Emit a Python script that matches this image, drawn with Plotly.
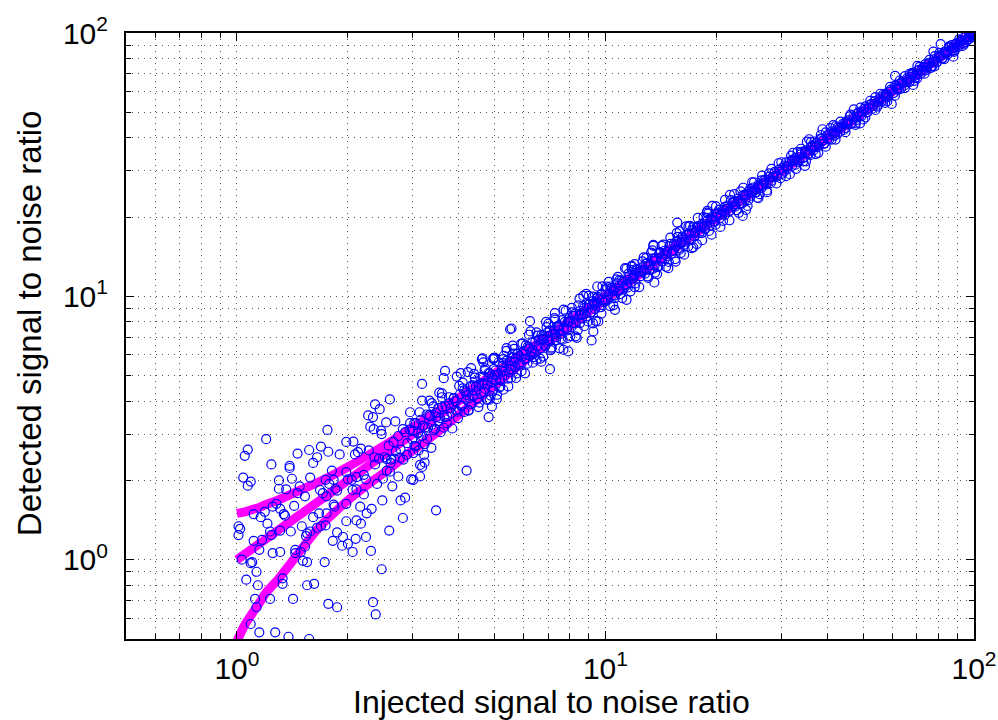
import plotly.graph_objects as go

# ---------------- data (read / estimated from the reference picture) ----------------
# sparse, low-SNR points (injected, detected)
low_x = [1.20,1.07,1.05,1.76,1.24,1.39,1.39,1.46,1.57,1.69,1.77,1.65,1.61,1.04,1.09,1.07,1.30,1.41,1.30,1.36,
         1.48,1.58,1.74,1.90,1.98,2.07,2.09,2.13,2.17,2.28,2.27,2.34,2.37,2.44,2.60,2.30,2.35,2.46,2.47,2.54,
         2.69,2.95,3.18,3.18,3.33,3.38,3.54,3.60,2.95,2.82,1.81,1.83,1.78,1.85,1.87,1.98,2.00,2.05,2.11,2.21,
         2.24,2.37,2.40,2.49,2.64,2.55,2.60,2.74,2.97,3.01,3.14,1.46,1.53,1.68,1.71,1.75,1.83,1.84,1.98,2.06,
         2.11,2.21,2.16,2.32,2.25,2.11,2.17,2.59,2.48,2.78,2.86,2.82,3.47,4.20,3.14,3.23,3.18,3.22,3.11,3.01,
         2.89,2.77,2.67,2.62,2.55,2.43,2.36,1.11,1.16,1.19,1.25,1.28,1.31,1.34,1.35,1.43,1.50,1.40,1.55,1.61,
         1.67,1.69,1.74,1.75,1.01,1.02,1.01,1.11,1.17,1.21,1.23,1.24,1.31,1.15,1.25,1.31,1.44,1.44,1.49,1.53,
         1.54,1.58,1.65,1.87,1.94,1.93,2.00,2.06,2.10,1.82,2.24,2.31,1.03,1.09,1.10,1.13,1.06,1.14,1.33,1.33,
         1.51,1.55,1.73,2.47,1.55,1.62,1.12,1.23,1.42,1.13,1.77,1.87,2.34,2.38,1.09,1.15,1.27,1.38,1.57,1.98]
low_y = [2.87,2.62,2.48,3.11,2.30,2.27,2.23,2.53,2.61,2.69,2.57,2.45,2.33,2.05,1.98,1.91,2.00,2.03,1.86,1.85,
         1.90,2.05,2.01,2.51,2.80,2.81,2.51,2.56,2.64,2.60,3.53,3.48,3.89,3.73,4.06,3.20,3.13,3.09,3.00,3.32,
         3.35,3.63,4.65,4.02,4.02,3.93,4.31,4.14,3.30,3.13,2.18,2.01,1.94,1.86,1.83,2.15,2.02,2.01,2.06,2.10,
         2.02,2.30,1.94,2.03,1.90,2.18,2.16,2.07,2.02,2.01,2.07,1.79,1.74,1.84,1.79,1.74,1.62,1.59,1.63,1.84,
         1.85,1.77,1.59,1.56,1.50,1.41,1.37,1.29,1.68,1.68,1.72,1.44,1.54,2.18,2.29,2.34,2.25,2.50,2.60,2.54,
         2.50,2.44,2.42,2.40,2.41,2.42,2.45,1.49,1.45,1.52,1.59,1.63,1.56,1.49,1.47,1.60,1.34,1.28,1.26,1.45,
         1.50,1.34,1.35,1.50,1.34,1.31,1.24,1.18,1.19,1.37,1.28,1.24,1.29,1.09,1.06,1.07,1.09,1.06,1.07,1.12,
         1.23,1.28,1.32,1.27,1.22,1.13,1.15,1.07,1.20,1.18,1.22,1.08,1.00,0.97,0.98,0.90,0.84,0.80,0.85,0.81,
         0.99,0.98,0.98,0.92,0.80,0.81,0.71,0.71,0.71,0.66,0.68,0.66,0.69,0.62,0.57,0.53,0.53,0.51,0.50,1.40]

# scattered outliers along the band at medium/high SNR
out_x = [3.67,3.64,3.95,4.05,4.32,4.62,4.66,4.96,5.28,5.39,5.51,4.96,5.07,5.28,4.82,4.92,4.76,
         5.56,6.24,9.17,9.27,9.56,7.93,7.69,11.78,13.49,13.57,7.29,8.71,10.07,11.41,10.61,6.78,7.07,4.96,4.64,
         11.78,13.49,15.66,15.60,16.96,17.13,18.89,21.77,23.57,24.06,26.00,13.63,14.81,
         34.8,32.3,35.7,38.8,41.5,49.1,47.2,59.8,61.1,68.4,70.2,77.6,81.2,98.6,87.9]
out_y = [5.21,4.89,4.96,5.11,5.34,5.78,5.61,5.78,5.78,6.36,7.50,4.44,4.07,4.42,3.48,3.82,4.05,
         7.55,8.05,6.80,7.36,8.03,6.18,6.27,12.98,15.55,11.29,8.63,10.04,10.90,9.70,8.89,5.91,5.29,5.82,5.82,
         13.05,15.68,19.06,17.37,18.52,15.24,21.11,24.27,20.21,21.30,23.58,12.31,12.79,
         31.3,35.1,39.5,43.1,44.7,45.4,51.3,53.8,68.7,63.5,75.0,85.0,90.8,99.1,81.3]

# dense core of points close to the diagonal
core_x = [2.52,2.58,2.61,2.66,2.70,2.74,2.78,2.83,2.86,2.90,2.94,2.99,3.03,3.06,3.10,3.15,3.19,3.24,3.28,3.33,
          3.37,3.42,3.47,3.52,3.57,3.61,3.66,3.71,3.76,3.82,3.87,3.93,3.98,
          4.03,4.08,4.14,4.19,4.25,4.30,4.36,4.42,4.48,4.54,4.60,4.66,4.72,4.78,4.85,4.91,4.98,5.04,5.11,5.18,
          5.25,5.32,5.39,5.46,5.54,5.61,5.69,5.76,5.84,5.92,6.00,6.08,6.16,6.25,6.33,6.42,6.50,6.59,6.68,6.77,
          6.87,6.96,7.05,7.15,7.25,7.35,7.45,7.55,7.65,7.76,7.86,7.97,8.08,8.19,8.30,8.41,8.53,8.64,8.76,8.88,
          9.00,9.12,9.25,9.37,9.50,9.63,9.76,9.89,
          4.2,4.7,5.0,5.5,6.0,6.5,7.0,7.5,8.0,8.5,9.0,9.5,4.45,4.95,5.7,6.3,6.8,7.3,7.9,8.6,9.3,9.8,
          10.0,10.15,10.3,10.45,10.6,10.75,10.9,11.05,11.2,11.4,11.55,11.7,11.9,12.05,12.2,12.4,12.6,12.8,13.0,
          13.2,13.4,13.6,13.8,14.0,14.2,14.45,14.65,14.9,15.1,15.35,15.6,15.85,16.1,16.35,16.6,16.9,17.15,17.45,
          17.7,18.0,18.3,18.6,18.9,19.2,19.5,19.8,20.1,20.4,20.8,21.1,21.45,21.8,22.2,22.5,22.9,23.3,23.6,24.0,
          24.4,24.8,25.2,25.6,26.0,26.5,26.9,27.3,27.8,28.2,28.7,29.2,29.6,
          10.5,11.5,12.5,13.5,14.5,15.5,16.5,17.5,18.5,19.5,21,22.5,24,25.5,27,28.5,12,16,20,26,
          30.1,30.6,31.1,31.6,32.1,32.7,33.2,33.8,34.3,34.9,35.5,36.1,36.7,37.3,37.9,38.6,39.2,39.9,40.5,41.2,
          41.9,42.6,43.3,44.0,44.8,45.5,46.3,47.1,47.9,48.7,49.5,50.3,51.2,52.0,52.9,53.8,54.7,55.7,56.6,57.6,
          58.5,59.5,60.5,61.6,62.6,63.7,64.7,65.8,66.9,68.1,69.2,70.4,71.6,72.8,74.0,75.3,76.5,77.8,79.2,80.5,
          81.9,83.3,84.7,86.1,87.6,89.1,90.6,92.1,93.7,95.3,96.9,98.5,99.3,
          31,33,35,37,39,42,45,48,51,55,58,62,66,70,74,78,83,88,93,97]
core_y = [2.45,2.71,2.33,2.80,2.58,2.95,2.62,2.40,3.05,2.77,3.12,2.86,3.30,2.70,3.02,3.40,2.95,3.18,2.88,3.55,
          3.25,3.10,3.62,3.36,3.05,3.80,3.48,3.30,3.92,3.60,4.10,3.70,3.45,
          4.25,3.85,4.40,4.05,3.70,4.55,4.20,4.75,4.10,4.62,4.30,4.95,4.45,4.05,5.10,4.70,5.30,4.80,5.05,4.55,
          5.45,5.00,5.70,5.15,4.90,5.85,5.40,6.05,5.55,5.20,6.20,5.80,6.45,5.95,6.70,6.10,5.75,6.85,6.35,7.05,
          6.50,7.30,6.75,6.40,7.45,7.00,7.75,7.20,6.85,8.00,7.55,8.30,7.65,8.45,7.90,7.45,8.80,8.25,9.05,8.40,
          9.30,8.70,9.60,8.95,9.85,9.10,10.20,9.50,
          4.22,4.68,5.02,5.45,6.05,6.48,7.05,7.45,8.05,8.45,9.05,9.45,4.55,4.85,5.8,6.2,6.9,7.2,8.0,8.5,9.4,9.7,
          10.6,9.70,10.9,10.1,9.85,11.2,10.5,11.5,10.7,11.0,12.2,11.3,11.9,11.2,12.6,11.9,12.9,12.2,13.4,
          12.6,13.9,13.1,12.9,14.6,13.6,14.9,14.2,15.5,14.5,15.0,16.2,15.2,16.7,15.7,17.1,16.3,17.8,16.9,
          18.2,17.4,18.9,18.0,19.4,18.6,20.1,19.2,20.8,19.8,21.3,20.4,22.1,21.2,22.8,21.9,23.5,22.6,24.2,23.3,
          25.0,24.1,25.9,24.9,26.5,25.8,27.6,26.6,28.4,27.5,29.3,28.5,30.3,
          10.45,11.55,12.4,13.6,14.4,15.6,16.4,17.6,18.4,19.6,21.1,22.4,24.1,25.4,27.1,28.4,12.05,15.95,20.05,25.95,
          29.2,31.4,30.4,32.5,31.3,33.5,32.3,34.6,33.5,35.8,34.5,37.0,35.9,38.2,37.0,39.6,38.1,40.9,39.5,42.3,
          40.8,43.7,42.2,45.1,43.6,46.6,45.1,48.2,46.7,49.9,48.3,51.5,50.0,53.2,51.6,55.1,53.4,57.0,55.2,58.9,
          57.1,60.9,59.1,63.0,61.1,65.1,63.2,67.3,65.3,69.6,67.6,72.0,69.9,74.4,72.3,76.9,74.8,79.5,77.3,82.2,
          80.0,85.0,82.8,87.9,85.6,90.9,88.6,94.0,91.6,97.2,94.8,100.3,98.0,
          31.1,32.9,35.2,36.9,39.1,41.8,45.2,47.8,51.2,54.8,58.3,61.8,66.2,69.7,74.3,77.7,83.3,87.6,93.4,96.6]

# medium spread of the band (estimated)
spread_x = [3.00,3.03,3.06,3.10,3.13,3.16,3.20,3.23,3.27,3.30,3.34,3.37,3.41,3.45,3.48,3.52,3.56,3.60,3.64,3.68,
            3.72,3.76,3.80,3.84,3.88,3.92,3.97,4.01,4.05,4.10,4.14,4.19,4.23,4.28,4.33,4.37,4.42,4.47,4.52,4.57,
            4.62,4.67,4.72,4.77,4.82,4.88,4.93,4.98,
            5.03,5.08,5.13,5.18,5.23,5.28,5.34,5.39,5.44,5.50,5.55,5.61,5.66,5.72,5.78,5.84,5.90,5.96,6.02,6.08,
            6.14,6.20,6.26,6.32,6.39,6.45,6.52,6.58,6.65,6.71,6.78,6.85,6.92,6.99,7.06,7.13,7.20,7.27,7.34,7.42,
            7.49,7.57,7.64,7.72,7.80,7.87,7.95,8.03,8.11,8.19,8.28,8.36,8.44,8.53,8.61,8.70,8.79,8.87,8.96,9.05,
            9.14,9.24,9.33,9.42,9.52,9.61,9.71,9.81,9.90,
            10.0,10.1,10.2,10.3,10.4,10.5,10.6,10.7,10.8,10.9,11.0,11.15,11.3,11.4,11.5,11.65,11.8,11.9,12.0,12.15,
            12.3,12.45,12.6,12.7,12.85,13.0,13.15,13.3,13.45,13.6,13.75,13.9,14.05,14.2,14.35,14.5,14.7,14.85,15.0,
            15.2,15.35,15.5,15.7,15.85,16.0,16.2,16.4,16.55,16.75,16.9,17.1,17.3,17.5,17.7,17.85,18.05,18.25,18.45,
            18.65,18.85,19.1,19.3,19.5,19.7,19.9,
            20.1,20.35,20.6,20.85,21.1,21.35,21.6,21.9,22.15,22.4,22.7,22.95,23.25,23.5,23.8,24.1,24.4,24.7,25.0,
            25.3,25.6,25.9,26.2,26.5,26.8,27.15,27.45,27.8,28.1,28.45,28.8,29.15,29.5,29.85,30.2,30.55,30.9,31.3,
            31.65,32.05,32.4,32.8,33.2,33.6,34.0,34.4,34.8,35.2,35.6,36.05,36.5,36.9,37.35,37.8,38.25,38.7,39.15,39.6,
            40.1,40.6,41.1,41.6,42.1,42.6,43.2,43.7,44.3,44.8,45.4,46.0,46.5,47.1,47.7,48.3,48.9,49.5,50.1,50.8,
            51.4,52.0,52.7,53.3,54.0,54.7,55.3,56.0,56.7,57.4,58.2,58.9,59.6,60.4,61.1,61.9,62.6,63.4,64.2,65.0,
            65.8,66.7,67.5,68.3,69.2,70.1,70.9,71.8,72.7,73.6,74.5,75.5,76.4,77.4,78.3,79.3,80.3,81.3,82.3,83.3,
            84.4,85.4,86.5,87.6,88.7,89.8,90.9,92.0,93.2,94.3,95.5,96.7,97.9,99.1]
spread_y = [3.09,2.70,3.30,3.04,3.63,2.94,3.23,2.75,3.56,3.17,3.51,2.66,3.82,3.14,3.48,3.77,3.45,4.28,3.17,3.83,
            3.50,4.14,3.76,3.15,4.11,4.00,3.65,4.57,3.85,4.47,3.64,4.32,5.16,4.11,3.90,4.59,4.91,4.38,3.80,4.94,
            4.67,4.34,5.33,4.63,5.11,4.20,4.93,5.83,
            5.23,4.23,5.62,4.81,5.23,5.58,5.21,6.21,4.87,5.68,5.28,6.06,5.61,4.90,6.06,5.93,5.52,6.63,5.78,6.52,
            5.55,6.35,7.36,6.12,5.88,6.71,7.09,6.47,5.80,7.14,6.83,6.47,7.64,6.82,7.40,6.33,7.20,8.26,6.81,7.66,
            7.67,6.90,8.13,7.60,8.80,7.43,8.01,7.07,8.69,7.93,8.61,6.96,9.25,7.92,8.61,9.19,8.58,10.22,8.03,9.34,
            8.70,9.98,9.26,8.06,9.98,9.76,9.09,10.91,9.50,
            9.64,10.71,10.14,9.19,10.77,10.63,10.09,11.60,10.48,11.49,10.21,11.35,12.79,11.13,10.81,12.00,12.58,11.76,10.85,12.73,
            12.37,11.93,13.58,12.47,13.31,11.91,13.15,14.66,12.72,13.93,14.00,12.98,14.72,14.03,15.73,13.89,14.79,13.51,15.81,
            14.84,15.81,13.55,16.83,15.00,16.00,16.88,16.10,18.44,15.44,17.31,16.48,18.34,17.40,15.79,18.49,18.27,17.37,20.00,
            18.09,19.87,17.72,19.65,22.07,19.23,18.71,
            20.55,21.36,20.41,19.35,21.86,21.45,20.92,23.18,21.85,23.00,21.27,22.95,25.03,22.55,24.23,24.43,23.19,25.59,24.78,
            27.12,24.79,26.02,24.43,27.57,26.32,27.76,24.86,29.30,26.96,28.45,29.71,28.76,32.02,28.10,30.74,29.73,32.29,31.16,
            29.09,32.92,32.69,31.62,35.29,32.84,35.38,32.54,35.27,38.68,34.96,34.43,37.32,38.73,37.01,35.08,39.63,38.87,37.92,41.92,
            39.74,41.33,39.37,41.60,44.25,41.45,43.72,44.09,42.84,45.88,45.13,48.21,45.52,47.24,45.55,49.60,48.31,50.24,46.94,52.63,
            50.01,52.00,53.81,52.82,57.08,52.57,55.96,54.99,58.40,57.23,55.06,59.96,59.96,59.19,63.24,61.13,64.01,61.50,64.68,68.58,
            65.14,65.03,68.34,70.18,68.85,67.30,72.32,71.98,71.43,75.99,73.94,76.63,73.73,77.40,81.63,77.52,80.94,81.79,80.49,84.63,
            84.06,88.13,85.29,87.78,86.04,91.42,90.17,92.92,89.29,96.56,93.78,96.70,99.27,98.51]

# outer edges of the band (estimated)
edge_x = [4.1,4.25,4.4,4.55,4.7,4.85,5.0,5.15,5.3,5.45,5.6,5.75,5.9,6.05,6.2,6.35,6.5,6.7,6.9,7.1,
          7.3,7.5,7.7,7.9,8.1,8.3,8.5,8.75,9.0,9.25,9.5,9.75,4.95,5.65,7.0,
          10.2,10.5,10.8,11.1,11.4,11.7,12.0,12.35,12.7,13.05,13.4,13.8,14.2,14.6,15.0,15.45,15.9,16.35,16.8,17.3,
          17.8,18.3,18.85,19.4,19.95,20.5,21.1,21.7,22.35,23.0,23.65,24.3,12.9,16.0,19.0,
          25.0,25.8,26.6,27.4,28.2,29.1,30.0,30.9,31.9,32.9,33.9,35.0,36.1,37.2,38.4,39.6,40.8,42.1,43.4,44.8,
          46.2,47.7,49.2,50.7,52.3,54.0,55.7,57.4,59.2,61.0,
          62.9,64.9,66.9,69.0,71.2,73.4,75.7,78.1,80.5,83.0,85.6,88.3,91.1,93.9,96.8,99.5,68.0,77.0,87.0,95.0]
edge_y = [4.70,3.68,5.08,3.95,5.25,4.05,5.85,4.50,5.95,4.55,6.50,5.10,6.60,5.10,7.15,5.60,7.30,5.65,8.00,6.25,
          8.15,6.35,8.90,6.95,9.05,7.05,9.80,7.70,10.05,7.90,10.90,8.60,4.38,6.32,7.88,
          11.35,9.25,11.85,9.85,12.75,10.45,13.25,10.85,14.05,11.75,14.95,12.15,15.55,12.95,16.70,13.85,17.65,14.40,18.45,15.35,
          19.85,16.35,20.80,17.15,21.95,18.35,23.25,19.45,24.45,20.75,25.85,22.05,14.00,14.60,20.60,
          27.10,23.70,28.75,25.25,30.50,26.85,32.30,28.60,34.25,30.50,36.35,32.55,38.60,34.70,41.00,37.00,43.50,39.40,46.10,42.00,
          49.00,44.80,52.10,47.80,55.30,51.00,58.80,54.30,62.40,57.80,
          66.00,61.80,70.00,65.80,74.40,70.10,79.00,74.70,83.90,79.60,89.00,84.80,94.50,90.50,99.90,96.50,70.60,74.60,89.90,92.30]

# magenta reference curves (mean and +/- spread)
curve_x     = [1.0, 1.05, 1.1, 1.15, 1.2, 1.3, 1.4, 1.5, 1.65, 1.8, 2.0, 2.3, 2.6, 3.0, 3.5, 4.0, 5.0, 7.0, 10.0, 20.0, 50.0, 100.0]
curve_upper = [1.50, 1.52, 1.55, 1.58, 1.62, 1.69, 1.77, 1.85, 1.96, 2.08, 2.25, 2.52, 2.80, 3.18, 3.65, 4.12, 5.10, 7.07, 10.05, 20.02, 50.0, 100.0]
curve_mid   = [1.0, 1.05, 1.1, 1.15, 1.2, 1.3, 1.4, 1.5, 1.65, 1.8, 2.0, 2.3, 2.6, 3.0, 3.5, 4.0, 5.0, 7.0, 10.0, 20.0, 50.0, 100.0]
curve_lower = [0.49, 0.565, 0.625, 0.685, 0.75, 0.85, 0.97, 1.10, 1.30, 1.47, 1.68, 1.96, 2.22, 2.60, 3.05, 3.55, 4.60, 6.70, 9.75, 19.8, 49.9, 100.0]

x_tick_vals = [1, 10, 100]
x_tick_text = ["10<sup>0</sup>", "10<sup>1</sup>", "10<sup>2</sup>"]
y_tick_vals = [1, 10, 100]
y_tick_text = ["10<sup>0</sup>", "10<sup>1</sup>", "10<sup>2</sup>"]
minor_vals = [0.5, 0.6, 0.7, 0.8, 0.9, 2, 3, 4, 5, 6, 7, 8, 9, 20, 30, 40, 50, 60, 70, 80, 90]

x_title = "Injected signal to noise ratio"
y_title = "Detected signal to noise ratio"

# ---------------- figure ----------------
FONT = "Liberation Sans, Arial, Helvetica, sans-serif"
fig = go.Figure()

for cy in (curve_upper, curve_mid, curve_lower):
    fig.add_trace(go.Scatter(x=curve_x, y=cy, mode="lines", line=dict(color="#ff00ff", width=9, shape="spline"),
                             hoverinfo="skip", showlegend=False))

all_x = edge_x + spread_x + core_x + out_x + low_x
all_y = edge_y + spread_y + core_y + out_y + low_y
fig.add_trace(go.Scatter(x=all_x, y=all_y, mode="markers",
                         marker=dict(symbol="circle-open", size=9, color="#0000ff", line=dict(width=1.2, color="#0000ff")),
                         showlegend=False))

axis_common = dict(
    type="log", range=[-0.30103, 2.0],
    showline=True, linecolor="black", linewidth=2, mirror="ticks",
    ticks="inside", ticklen=8, tickwidth=1, tickcolor="black",
    showgrid=True, zeroline=False,
    gridcolor="#555555", gridwidth=1, griddash="1px,5px",
    tickfont=dict(family=FONT, size=30, color="black"),
    minor=dict(tickvals=minor_vals, ticks="inside", ticklen=5, tickcolor="black", showgrid=True,
               gridcolor="#555555", gridwidth=1, griddash="1px,5px"),
)

fig.update_xaxes(**axis_common, tickmode="array", tickvals=x_tick_vals, ticktext=x_tick_text,
                 ticklabelstandoff=2)
fig.update_yaxes(**axis_common, tickmode="array", tickvals=y_tick_vals, ticktext=y_tick_text,
                 ticklabelstandoff=10)

fig.update_layout(
    width=998, height=720,
    margin=dict(l=126, r=24, t=33, b=81, autoexpand=False),
    plot_bgcolor="white", paper_bgcolor="white",
    font=dict(family=FONT, color="black"),
    annotations=[
        dict(text=x_title, xref="paper", yref="paper", x=0.502, y=-0.1035, xanchor="center", yanchor="middle",
             showarrow=False, font=dict(family=FONT, size=32, color="black")),
        dict(text=y_title, xref="paper", yref="paper", x=-0.113, y=0.5215, xanchor="center", yanchor="middle",
             textangle=-90, showarrow=False, font=dict(family=FONT, size=33, color="black")),
    ],
)

fig.write_html("out.html")
